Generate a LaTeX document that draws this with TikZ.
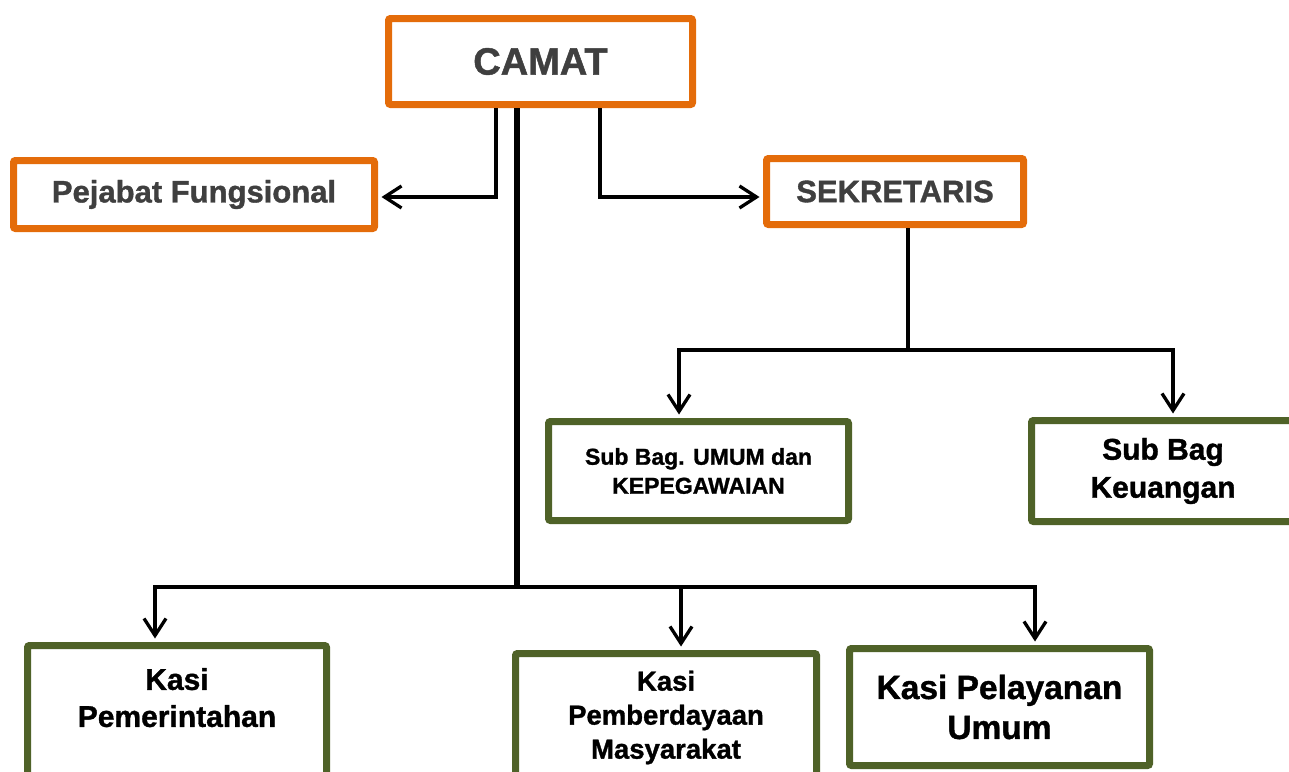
\documentclass[tikz,border=0pt]{standalone}
\usepackage{fontspec}
\usepackage{xcolor}
\usetikzlibrary{arrows.meta,calc}
\newfontfamily\orgfont[BoldFeatures={FakeBold=1.2}]{Liberation Sans}
\definecolor{jborange}{HTML}{E46C0A}
\definecolor{jbgreen}{HTML}{4F6228}
\definecolor{jbgray}{HTML}{3F3F3F}
\newcommand{\orgsize}[2]{\orgfont\bfseries\fontsize{#1}{#2}\selectfont}

\begin{document}
\begin{tikzpicture}[
  x=1pt,y=-1pt,
  head/.style={rectangle,draw=jborange,line width=7pt,rounded corners=2pt,fill=white,
               align=center,text=jbgray,inner sep=0pt},
  unit/.style={rectangle,draw=jbgreen,line width=7pt,rounded corners=2pt,fill=white,
               align=center,text=black,inner sep=0pt},
  conn/.style={line width=3.3pt,-{Straight Barb[length=17pt,width=22pt]}},
  trunk/.style={line width=6pt}]

\useasboundingbox (0,0) rectangle (1289,771);
\clip (0,0) rectangle (1289,771);

% ================= pimpinan =================
\node[head,minimum width=304,minimum height=86,font=\orgsize{38}{44}](camat) at (540.5,61.5){CAMAT};
\node[head,minimum width=361,minimum height=68,font=\orgsize{31}{36}](pejabat) at (194,194.5){Pejabat Fungsional};
\node[head,minimum width=257,minimum height=66,font=\orgsize{31}{36}](sekretaris) at (895,191.5){SEKRETARIS};

% ================= sub bagian =================
\node[unit,minimum width=300,minimum height=99,font=\orgsize{23}{29}](subumum) at (698.5,471)
  {Sub Bag. UMUM dan\\KEPEGAWAIAN};
\node[unit,minimum width=263,minimum height=101,font=\orgsize{30}{38}](subkeu) at (1163,471)
  {Sub Bag\\Keuangan};

% ================= seksi =================
\node[unit,minimum width=299,minimum height=141,font=\orgsize{30}{37}](kpem) at (177,716)
  {Kasi\\Pemerintahan\\\mbox{}};
\node[unit,minimum width=301,minimum height=128,font=\orgsize{27.5}{34}](kpmb) at (666,717.5)
  {Kasi\\Pemberdayaan\\Masyarakat};
\node[unit,minimum width=300,minimum height=117,font=\orgsize{33.5}{40}](kpel) at (999.5,707)
  {Kasi Pelayanan\\Umum};

% ================= garis =================
\draw[conn] (496,0 |- camat.south) |- ([xshift=3.5pt]pejabat.east |- 0,197);
\draw[conn] (600,0 |- camat.south) |- ([xshift=-3.5pt]sekretaris.west |- 0,197);

\coordinate (sbus) at (908,350);
\draw[line width=3.3pt] (908,0 |- sekretaris.south) -- (sbus);
\draw[conn] (sbus) -| ([yshift=3.5pt]679,0 |- subumum.north);
\draw[conn] (sbus) -| ([yshift=3.5pt]1173,0 |- subkeu.north);

\coordinate (bus) at (517,587);
\draw[trunk] (517,0 |- camat.south) -- (bus);
\draw[conn] (bus) -| ([yshift=3.5pt]155,0 |- kpem.north);
\draw[conn] (bus) -| ([yshift=3.5pt]681,0 |- kpmb.north);
\draw[conn] (bus) -| ([yshift=3.5pt]1035,0 |- kpel.north);
\end{tikzpicture}
\end{document}
